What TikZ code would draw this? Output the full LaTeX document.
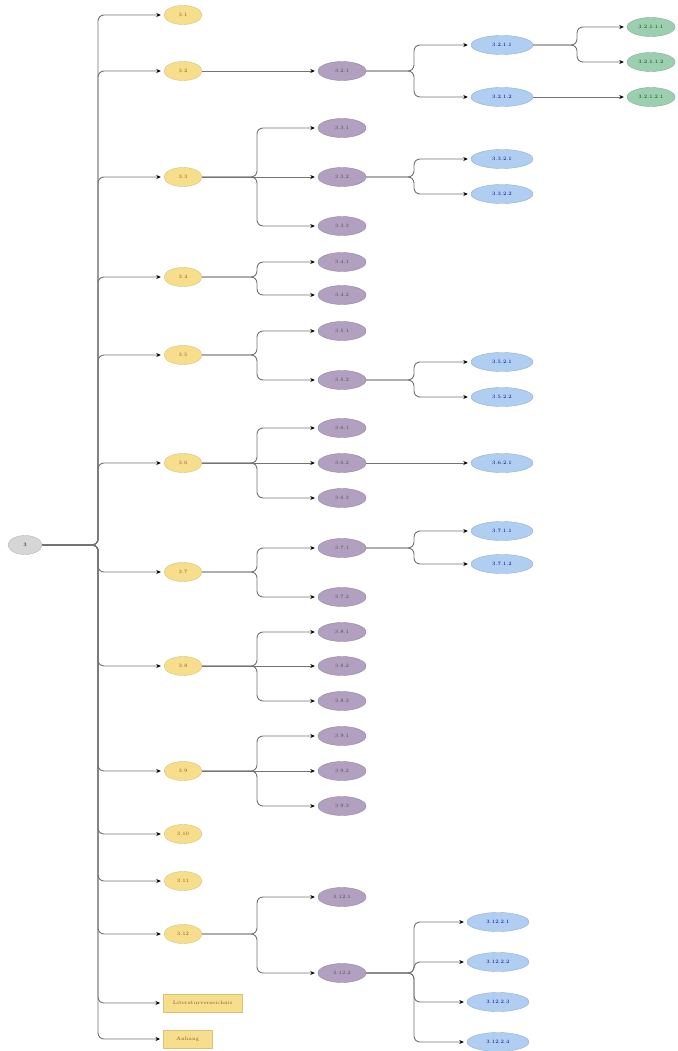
\documentclass[tikz,border=0pt]{standalone}
\usetikzlibrary{shapes.geometric,arrows.meta}
\definecolor{ylw}{RGB}{246,222,140}
\definecolor{prp}{RGB}{178,160,192}
\definecolor{blu}{RGB}{176,206,242}
\definecolor{grn}{RGB}{156,206,176}
\definecolor{gry}{RGB}{214,214,214}
\begin{document}
\begin{tikzpicture}[x=1pt,y=-1pt,
  base/.style={ellipse, inner sep=0pt, minimum height=19pt, font=\fontsize{5}{6}\selectfont},
  rootn/.style={base, minimum width=34pt, fill=gry, draw=gry!85!black},
  lvA/.style={base, minimum width=38pt, fill=ylw, draw=ylw!88!black, text=brown!70!black},
  lvAr/.style={rectangle, inner sep=0pt, minimum height=18pt, anchor=west, fill=ylw, draw=ylw!88!black, text=brown!70!black, font=\fontsize{5}{6}\selectfont},
  lvB/.style={base, minimum width=48pt, fill=prp, draw=prp!85!black, text=black!70},
  lvC/.style={base, minimum width=62pt, fill=blu, draw=blu!85!black, text=blue!50!black},
  lvD/.style={base, minimum width=48pt, fill=grn, draw=grn!85!black, text=green!30!black},
  conn/.style={draw=black!55, line width=0.9pt, rounded corners=6pt, -{Stealth[length=4.5pt,width=4pt,black]}, shorten >=3pt},
  elbow/.style={to path={-- (\tikztostart -| #1) |- (\tikztotarget)}}
]
\useasboundingbox (0,0) rectangle (677,1051);
\coordinate (B0) at (98,0);
\coordinate (B1) at (257,0);
\coordinate (B2) at (414,0);
\coordinate (B3) at (577,0);

% root
\node[rootn] (r) at (25,545) {3};

% level 1
\node[lvA] (a1) at (183,15) {3.1};
\node[lvA] (a2) at (183,71) {3.2};
\node[lvA] (a3) at (183,177) {3.3};
\node[lvA] (a4) at (183,277) {3.4};
\node[lvA] (a5) at (183,355) {3.5};
\node[lvA] (a6) at (183,463) {3.6};
\node[lvA] (a7) at (183,572) {3.7};
\node[lvA] (a8) at (183,666) {3.8};
\node[lvA] (a9) at (183,771) {3.9};
\node[lvA] (a10) at (183,834) {3.10};
\node[lvA] (a11) at (183,881) {3.11};
\node[lvA] (a12) at (183,934) {3.12};
\node[lvAr, minimum width=79pt] (a13) at (163,1003) {Literaturverzeichnis};
\node[lvAr, minimum width=49pt] (a14) at (163,1039) {Anhang};

% level 2
\node[lvB] (b21) at (342,71) {3.2.1};
\node[lvB] (b31) at (342,128) {3.3.1};
\node[lvB] (b32) at (342,177) {3.3.2};
\node[lvB] (b33) at (342,226) {3.3.3};
\node[lvB] (b41) at (342,262) {3.4.1};
\node[lvB] (b42) at (342,295) {3.4.2};
\node[lvB] (b51) at (342,331) {3.5.1};
\node[lvB] (b52) at (342,380) {3.5.2};
\node[lvB] (b61) at (342,428) {3.6.1};
\node[lvB] (b62) at (342,463) {3.6.2};
\node[lvB] (b63) at (342,498) {3.6.3};
\node[lvB] (b71) at (342,548) {3.7.1};
\node[lvB] (b72) at (342,597) {3.7.2};
\node[lvB] (b81) at (342,632) {3.8.1};
\node[lvB] (b82) at (342,666) {3.8.2};
\node[lvB] (b83) at (342,701) {3.8.3};
\node[lvB] (b91) at (342,736) {3.9.1};
\node[lvB] (b92) at (342,771) {3.9.2};
\node[lvB] (b93) at (342,806) {3.9.3};
\node[lvB] (b121) at (342,897) {3.12.1};
\node[lvB] (b122) at (342,973) {3.12.2};

% level 3
\node[lvC] (c211) at (502,45) {3.2.1.1};
\node[lvC] (c212) at (502,97) {3.2.1.2};
\node[lvC] (c321) at (502,159) {3.3.2.1};
\node[lvC] (c322) at (502,194) {3.3.2.2};
\node[lvC] (c521) at (502,362) {3.5.2.1};
\node[lvC] (c522) at (502,397) {3.5.2.2};
\node[lvC] (c621) at (502,463) {3.6.2.1};
\node[lvC] (c711) at (502,531) {3.7.1.1};
\node[lvC] (c712) at (502,564) {3.7.1.2};
\node[lvC] (c1221) at (498,922) {3.12.2.1};
\node[lvC] (c1222) at (498,962) {3.12.2.2};
\node[lvC] (c1223) at (498,1002) {3.12.2.3};
\node[lvC] (c1224) at (498,1042) {3.12.2.4};

% level 4
\node[lvD] (d2111) at (651,27) {3.2.1.1.1};
\node[lvD] (d2112) at (651,62) {3.2.1.1.2};
\node[lvD] (d2121) at (651,97) {3.2.1.2.1};

% connectors: root
\foreach \c in {a1,a2,a3,a4,a5,a6,a7,a8,a9,a10,a11,a12,a13,a14}
  \draw[conn] (r.east) to[elbow=B0] (\c.west);

% level 1 -> 2
\draw[conn] (a2.east) -- (b21.west);
\foreach \c in {b31,b33} \draw[conn] (a3.east) to[elbow=B1] (\c.west);
\draw[conn] (a3.east) -- (b32.west);
\foreach \c in {b41,b42} \draw[conn] (a4.east) to[elbow=B1] (\c.west);
\foreach \c in {b51,b52} \draw[conn] (a5.east) to[elbow=B1] (\c.west);
\foreach \c in {b61,b63} \draw[conn] (a6.east) to[elbow=B1] (\c.west);
\draw[conn] (a6.east) -- (b62.west);
\foreach \c in {b71,b72} \draw[conn] (a7.east) to[elbow=B1] (\c.west);
\foreach \c in {b81,b83} \draw[conn] (a8.east) to[elbow=B1] (\c.west);
\draw[conn] (a8.east) -- (b82.west);
\foreach \c in {b91,b93} \draw[conn] (a9.east) to[elbow=B1] (\c.west);
\draw[conn] (a9.east) -- (b92.west);
\foreach \c in {b121,b122} \draw[conn] (a12.east) to[elbow=B1] (\c.west);

% level 2 -> 3
\foreach \c in {c211,c212} \draw[conn] (b21.east) to[elbow=B2] (\c.west);
\foreach \c in {c321,c322} \draw[conn] (b32.east) to[elbow=B2] (\c.west);
\foreach \c in {c521,c522} \draw[conn] (b52.east) to[elbow=B2] (\c.west);
\draw[conn] (b62.east) -- (c621.west);
\foreach \c in {c711,c712} \draw[conn] (b71.east) to[elbow=B2] (\c.west);
\foreach \c in {c1221,c1222,c1223,c1224} \draw[conn] (b122.east) to[elbow=B2] (\c.west);

% level 3 -> 4
\foreach \c in {d2111,d2112} \draw[conn] (c211.east) to[elbow=B3] (\c.west);
\draw[conn] (c212.east) -- (d2121.west);
\end{tikzpicture}
\end{document}
